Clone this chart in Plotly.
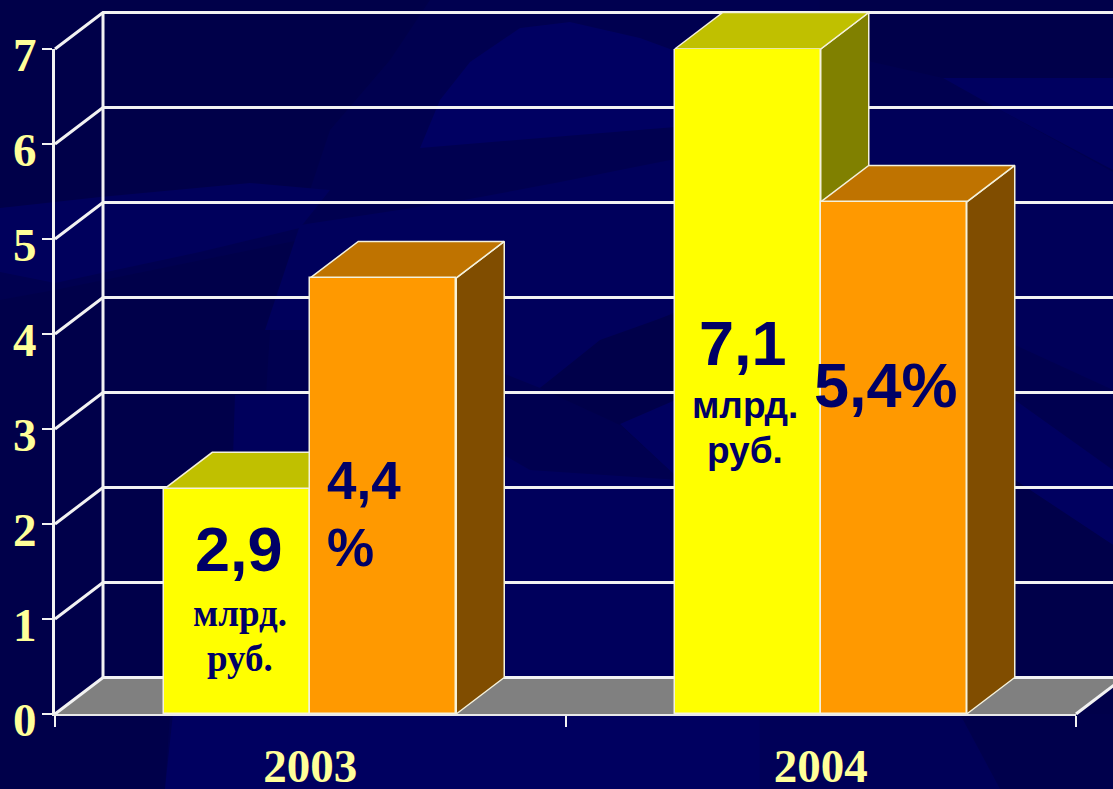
import plotly.graph_objects as go

# ---- data ----
years = ["2003", "2004"]
sales_heights = [2.37, 7.0]      # yellow bars
share_heights = [4.59, 5.39]     # orange bars
y_ticks = [0, 1, 2, 3, 4, 5, 6, 7]

amount_labels = ["2,9", "7,1"]
unit_line1 = "млрд."
unit_line2 = "руб."
share_label_2003 = ["4,4", "%"]
share_label_2004 = "5,4%"

# ---- geometry / style ----
W, H = 1113, 789
L, RIGHT, TOP, BOTTOM = 55, 1076, 49, 714      # front plane of the chart, in page pixels
UNIT_X = (RIGHT - L) / 2
UNIT_Y = (BOTTOM - TOP) / 7
BAR_W = 146 / UNIT_X
DX = 48 / UNIT_X       # depth in category units
DY = 36.5 / UNIT_Y     # depth in value units
CREAM = "#FFFF99"
NAVY = "#000066"
EDGE = "#F4F1DC"


def dx(px):
    return (px - L) / UNIT_X - 0.5


def dy(py):
    return (BOTTOM - py) / UNIT_Y


def paper(px, py):
    return f"{px / W:.4f},{(H - py) / H:.4f}"


def blob(points, color):
    d = "M" + " L".join(paper(*p) for p in points) + " Z"
    return dict(type="path", path=d, xref="paper", yref="paper", layer="below",
                fillcolor=color, line=dict(width=0))


BASE = "#000050"
bg = [
    blob([(0, 0), (1113, 0), (1113, 789), (0, 789)], BASE),
    blob([(0, 0), (430, 0), (390, 60), (330, 130), (310, 190), (0, 208)], "#000049"),
    blob([(0, 300), (55, 290), (300, 240), (270, 330), (265, 410), (230, 480), (170, 714), (165, 789), (0, 789)], "#00004A"),
    blob([(0, 208), (100, 197), (250, 183), (330, 190), (300, 228), (200, 252), (55, 283), (0, 272)], "#00005C"),
    blob([(420, 148), (440, 100), (470, 62), (520, 28), (570, 22), (640, 38), (700, 60), (700, 125)], "#000062"),
    blob([(464, 200), (560, 182), (680, 158), (680, 310), (600, 345), (540, 388), (500, 372), (400, 330), (265, 330), (300, 225)], "#00005C"),
    blob([(540, 388), (600, 340), (670, 315), (680, 315), (680, 480), (620, 425)], "#00004A"),
    blob([(620, 424), (680, 398), (680, 480)], "#000060"),
    blob([(235, 395), (400, 395), (530, 470), (680, 480), (680, 714), (225, 714)], "#00005C"),
    blob([(173, 714), (760, 714), (760, 789), (165, 789)], "#000060"),
    blob([(760, 714), (1113, 714), (1113, 789), (760, 789)], "#000058"),
    blob([(960, 714), (1113, 714), (1113, 789), (1000, 789)], "#00004C"),
    blob([(820, 0), (1113, 0), (1113, 78), (943, 78), (820, 50)], "#00004A"),
    blob([(943, 78), (1113, 78), (1113, 170), (1000, 110)], "#000060"),
    blob([(870, 110), (1000, 110), (1113, 172), (1113, 390), (1015, 345), (870, 300)], "#000059"),
    blob([(1015, 400), (1113, 470), (1113, 545), (1015, 480)], "#000060"),
    blob([(1015, 480), (1113, 545), (1113, 714), (1015, 714)], "#00004A"),
]

fig = go.Figure()

# floor (page-wide invisible axes carry everything that leans out of the front plane)
fig.add_trace(go.Scatter(
    x=[-0.5, -0.5 + DX, 1.5 + DX, 1.5, -0.5], y=[0, DY, DY, 0, 0],
    mode="lines", fill="toself", fillcolor="#808080", line=dict(width=0),
    showlegend=False, hoverinfo="skip"))

# walls and gridlines
gx, gy = [], []
for t in y_ticks:
    gx += [-0.5, -0.5 + DX, 1.5 + DX, None]
    gy += [t, t + DY, t + DY, None]
gx += [-0.5 + DX, -0.5 + DX, None, 1.5, 1.5 + DX]
gy += [DY, y_ticks[-1] + DY, None, 0, DY]
fig.add_trace(go.Scatter(x=gx, y=gy, mode="lines", line=dict(color="#F2F2F2", width=3),
                         showlegend=False, hoverinfo="skip"))


def box_faces(x0, x1, v, top_color, side_color):
    for xs, ys, c in (
        ([x1, x1 + DX, x1 + DX, x1, x1], [0, DY, v + DY, v, 0], side_color),
        ([x0, x0 + DX, x1 + DX, x1, x0], [v, v + DY, v + DY, v, v], top_color),
    ):
        fig.add_trace(go.Scatter(x=xs, y=ys, mode="lines", fill="toself", fillcolor=c,
                                 line=dict(color=EDGE, width=1.5),
                                 showlegend=False, hoverinfo="skip"))


for i in range(len(years)):
    box_faces(i - BAR_W, i, sales_heights[i], "#C0C000", "#808000")
    box_faces(i, i + BAR_W, share_heights[i], "#BF7300", "#804D00")

# front faces on the visible axes, whose subplot is drawn above the page-wide one
idx = list(range(len(years)))
fig.add_trace(go.Bar(x=[i - BAR_W / 2 for i in idx], y=sales_heights, width=BAR_W,
                     marker=dict(color="#FFFF00", line=dict(color=EDGE, width=1.5)),
                     xaxis="x2", yaxis="y2", showlegend=False, hoverinfo="skip"))
fig.add_trace(go.Bar(x=[i + BAR_W / 2 for i in idx], y=share_heights, width=BAR_W,
                     marker=dict(color="#FF9900", line=dict(color=EDGE, width=1.5)),
                     xaxis="x2", yaxis="y2", showlegend=False, hoverinfo="skip"))


def note(text, px, py, size, family="Liberation Sans"):
    return dict(text=f"<b>{text}</b>", x=dx(px), y=dy(py), xref="x", yref="y",
                showarrow=False, xanchor="center", yanchor="middle",
                font=dict(family=family, size=size, color=NAVY))


notes = [
    note(amount_labels[0], 239, 549, 63),
    note(unit_line1, 240, 613, 37, "Liberation Serif"),
    note(unit_line2, 240, 658, 37, "Liberation Serif"),
    note(share_label_2003[0], 364, 480, 53),
    note(share_label_2003[1], 350, 547, 53),
    note(amount_labels[1], 743, 343, 63),
    note(unit_line1, 745, 405, 37),
    note(unit_line2, 745, 450, 37),
    note(share_label_2004, 886, 385, 63),
]

tick_font_y = dict(family="Liberation Serif", size=47, color=CREAM, weight="bold")
tick_font_x = dict(family="Liberation Serif", size=47, color=CREAM, weight="bold")

fig.update_layout(
    template="none",
    width=W, height=H, margin=dict(l=0, r=0, t=0, b=0, pad=0), autosize=False,
    paper_bgcolor=BASE, plot_bgcolor="rgba(0,0,0,0)",
    barmode="overlay", bargap=0, showlegend=False, shapes=bg, annotations=notes,
    xaxis=dict(domain=[0, 1], range=[dx(0), dx(W)], visible=False, fixedrange=True),
    yaxis=dict(domain=[0, 1], range=[dy(H), dy(0)], visible=False, fixedrange=True),
    xaxis2=dict(domain=[L / W, RIGHT / W], range=[-0.5, 1.5], anchor="y2",
                tickvals=idx, ticktext=years, ticklen=0, ticks="", ticklabelstandoff=10,
                tickfont=tick_font_x, showgrid=False, zeroline=False, showline=True,
                linecolor="#E8E8E8", linewidth=2, fixedrange=True,
                minor=dict(tickvals=[-0.5, 0.5, 1.5], ticks="outside", ticklen=11,
                           tickwidth=2, tickcolor="#F2F2F2", showgrid=False)),
    yaxis2=dict(domain=[(H - BOTTOM) / H, (H - TOP) / H], range=[0, 7], anchor="x2",
                tickvals=y_ticks, ticks="outside", ticklen=10, tickwidth=2,
                tickcolor="#F2F2F2", tickfont=tick_font_y, showgrid=False, zeroline=False,
                showline=True, linecolor="#F2F2F2", linewidth=3, ticklabelstandoff=-4,
                ticklabelshift=6, fixedrange=True),
)

fig.write_html("out.html", config=dict(displayModeBar=False), post_script=(
    "document.body.style.margin='0';document.body.style.overflow='hidden';"
    "document.documentElement.style.background='#000050';"))
